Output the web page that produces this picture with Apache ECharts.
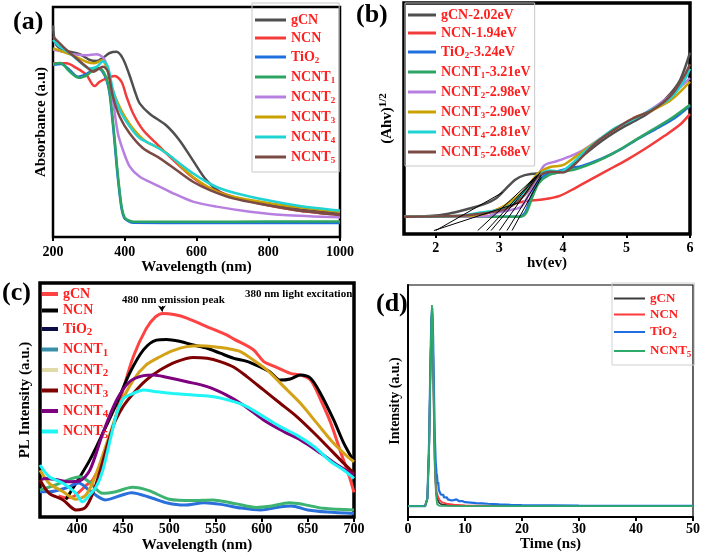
<!DOCTYPE html>
<html><head><meta charset="utf-8">
<script src="https://cdn.jsdelivr.net/npm/echarts@6/dist/echarts.min.js"></script>
<style>html,body{margin:0;padding:0;background:#fff}#c{width:703px;height:556px}</style>
</head><body><div id="c"></div>
<script>
// ---------- DATA ----------
const KEYS = ['gCN','NCN','TiO2','NCNT1','NCNT2','NCNT3','NCNT4','NCNT5'];
const KEYS_D = ['gCN','NCN','TiO2','NCNT5'];
const BANDGAP = ['2.02','1.94','3.24','3.21','2.98','2.90','2.81','2.68'];
const TICKS_A = [200,400,600,800,1000];
const TICKS_B = [2,3,4,5,6];
const TICKS_C = [400,450,500,550,600,650,700];
const TICKS_D = [0,10,20,30,40,50];

// (a) Absorbance vs wavelength [nm, a.u.]
const a_gCN = [[200,92],[202,88],[206,84.5],[215,82.5],[237,81],[274,79.5],[302,77],[321,76.5],[340,78],[358,80],[377,80.5],[395,77.5],[414,70],[430,62.5],[442,58],[470,53.5],[516,48.5],[553,42],[590,33.3],[628,24.6],[665,19.6],[702,17.2],[750,15.6],[795,14.3],[850,13],[888,12],[950,11],[1000,10.3]];
const a_NCN = [[200,75.5],[237,75.5],[265,73.5],[293,70.5],[316,65.6],[330,67.5],[349,69],[372,70],[391,67.5],[405,61],[423,53.8],[451,46.5],[488,40.7],[535,33.5],[581,27],[628,21.9],[702,17.5],[795,13.9],[888,11.4],[1000,9.6]];
const a_TiO2 = [[200,74.8],[223,75.2],[247,72.5],[270,69.7],[293,70.8],[321,73.3],[335,72.5],[349,68.3],[358,62],[365,52],[372,40.7],[378,30],[384,21],[391,12.5],[398,8.5],[405,7.4],[423,6.2],[600,6.1],[800,6.1],[1000,6.1]];
const a_NCNT1 = [[200,75],[220,75.6],[247,71.8],[272,69.2],[296,70.5],[321,73.5],[336,72.8],[350,68.5],[359,62],[366,52],[373,40.5],[379,30],[385,21],[392,12.5],[399,8.7],[406,7.6],[425,6.6],[600,6.6],[800,6.7],[1000,6.7]];
const a_NCNT2 = [[200,81.5],[228,80.5],[256,79.5],[290,79],[321,79.5],[340,78],[349,75],[358,69],[367,59.7],[381,45],[395,37.8],[414,30.6],[442,26.2],[488,22.6],[535,19],[590,15.4],[656,13.2],[749,11],[842,9.6],[1000,8.6]];
const a_NCNT3 = [[200,82],[228,80.5],[256,78.9],[293,76.2],[316,75.5],[335,76.8],[349,74],[363,65.5],[377,59.6],[395,53.8],[423,47.2],[460,41.4],[498,38.5],[535,34.2],[572,28.4],[609,24],[656,19.7],[702,17.5],[795,14.9],[888,12.9],[1000,11]];
const a_NCNT4 = [[200,85.7],[218,82.8],[247,79.8],[274,76.2],[302,73.3],[321,74],[340,76.4],[353,74],[367,64],[386,55.2],[414,48],[442,42.9],[479,40],[516,36.4],[553,32],[590,27.7],[628,24],[665,21.2],[721,18.6],[795,16.1],[888,13.5],[1000,11.5]];
const a_NCNT5 = [[200,87.1],[214,84.9],[237,81.4],[265,77.7],[293,74],[312,71.9],[330,73.4],[340,74],[353,71.9],[367,61],[386,52.3],[414,45],[451,38.6],[498,34.2],[544,29.1],[590,24],[637,20.4],[702,16.8],[795,13.9],[888,11.4],[1000,9.6]];

// (b) Tauc plot [eV, a.u.]
const b_gCN = [[1.5,7.5],[1.9,7.8],[2.2,8.8],[2.5,10.8],[2.75,12.8],[2.95,15.5],[3.1,19.5],[3.25,23.5],[3.4,25.5],[3.6,26.2],[3.8,26.2],[3.95,26.8],[4.1,28.8],[4.3,33.5],[4.5,38],[4.7,42],[4.9,45.5],[5.1,48.5],[5.3,51.5],[5.5,55.5],[5.7,61],[5.85,67],[6,78.5]];
const b_NCN = [[1.5,7.5],[2.5,7.8],[2.8,9],[3.0,11],[3.2,12.8],[3.4,14.2],[3.7,15],[3.95,16.5],[4.2,20],[4.5,24.5],[4.8,29],[5.0,32],[5.3,37],[5.6,42.5],[5.85,47.5],[6,52]];
const b_TiO2 = [[1.5,7.5],[3.3,7.5],[3.4,9],[3.5,16],[3.6,22.5],[3.75,26],[3.9,27],[4.1,28.5],[4.3,29.5],[4.6,32.5],[4.9,36.5],[5.2,41.5],[5.5,46],[5.75,50],[6,55.5]];
const b_NCNT1 = [[1.5,7.5],[3.33,7.5],[3.42,9],[3.52,16],[3.62,22],[3.78,25.5],[4.0,27],[4.2,28],[4.5,31],[4.8,35],[5.1,40],[5.4,45],[5.7,50],[6,56]];
const b_NCNT2 = [[1.5,7.5],[2.8,7.7],[3.0,9.5],[3.2,10.5],[3.35,12],[3.5,19],[3.7,29.5],[3.9,31.5],[4.1,33.5],[4.3,36],[4.6,41.5],[5.0,48.5],[5.3,52.5],[5.6,58],[5.8,62.5],[6,67.5]];
const b_NCNT3 = [[1.5,7.5],[2.6,8],[2.8,9],[3.0,11],[3.2,14.5],[3.4,19],[3.6,26],[3.8,29],[4.0,29.8],[4.2,33.5],[4.5,39.5],[4.8,45],[5.1,50],[5.4,53.5],[5.7,58],[6,66]];
const b_NCNT4 = [[1.5,7.5],[2.4,7.9],[2.7,9.3],[3.0,10.5],[3.2,13],[3.4,18.5],[3.6,25],[3.8,27.5],[3.95,27],[4.1,29.5],[4.4,37],[4.8,45.5],[5.1,49.5],[5.4,54],[5.7,59],[5.9,66],[6,71.5]];
const b_NCNT5 = [[1.5,7.5],[2.4,7.9],[2.7,8.8],[3.0,10],[3.2,12.2],[3.4,17],[3.6,24.5],[3.8,27],[4.0,26.6],[4.2,30.5],[4.5,39],[4.8,45],[5.1,50],[5.4,53.5],[5.7,60],[5.9,68],[6,73.5]];
// tangent (band-gap extrapolation) lines
const tan_gCN = [[2.0,1.5],[3.05,18]];
const tan_NCN = [[1.97,1.5],[3.3,13.5]];
const tan_TiO2 = [[3.2,1.5],[3.66,24.5]];
const tan_NCNT1 = [[3.12,1.5],[3.66,25.5]];
const tan_NCNT2 = [[3.0,1.5],[3.65,27]];
const tan_NCNT3 = [[2.87,1.5],[3.62,26]];
const tan_NCNT4 = [[2.8,1.5],[3.6,25.5]];
const tan_NCNT5 = [[2.66,1.5],[3.58,25]];

// (c) PL spectra [nm, a.u.]
const c_gCN = [[380,9],[388,8.2],[395,8.5],[402,10.5],[410,13.5],[417,15.8],[428,24.4],[439,38.6],[450,54.3],[461,68.5],[475,80.5],[485,85.5],[493,87],[505,86.5],[519,85],[541,81.3],[562,77.8],[570,76],[591,71.5],[602,66.5],[613,64.5],[631,61.4],[642,60.7],[653,58.5],[664,50],[675,40],[686,27.2],[695,17.2],[700,10.5]];
const c_NCN = [[388,7.5],[399,14.4],[414,24.4],[428,35.8],[443,48.6],[457,61.4],[472,71.4],[486,75.6],[497,75.9],[512,75],[526,73.5],[541,72.1],[555,70],[570,67.8],[584,66.5],[599,64],[609,62],[620,58.5],[631,59],[642,60.7],[653,59.3],[664,52.6],[678,41.5],[689,31.5],[700,23.6]];
const c_TiO2 = [[360,10.8],[370,10.8],[388,12.4],[402,14.5],[413,11.5],[431,7.3],[449,9.4],[459,10.4],[481,8.1],[498,6],[516,5.1],[538,6.1],[556,5.4],[578,3.8],[599,3],[621,4.4],[632,4.7],[650,3],[671,2.1],[700,1.5]];
const c_NCNT1 = [[360,11.5],[377,13.7],[395,16.5],[403,17.2],[413,15.1],[428,10.1],[442,10.8],[460,12.7],[478,11.3],[500,7.6],[526,7],[547,7.3],[573,5.6],[594,4.1],[609,4.6],[630,6.1],[645,5.4],[667,3.7],[700,3]];
const c_NCNT2 = [[360,20],[370,14.4],[385,10.8],[399,7.6],[410,9.5],[421,18.7],[436,35.8],[446,47.2],[461,58.5],[475,65],[490,68.5],[504,71.1],[519,72.8],[533,73.2],[548,72.8],[562,72.1],[577,70.7],[591,67.1],[606,62.8],[624,55.7],[642,48.6],[660,40],[678,31.5],[693,25.8],[700,23.6]];
const c_NCNT3 = [[360,15.8],[370,10.1],[385,7.3],[399,3],[410,4.4],[421,14.4],[439,38.6],[450,47.2],[461,52.8],[475,58.5],[490,62.8],[508,66.4],[526,68.2],[541,67.8],[555,66.4],[570,64],[584,60],[602,54.3],[620,48.6],[638,42.9],[657,35.8],[675,28.6],[689,22.9],[700,18.7]];
const c_NCNT4 = [[361,16],[366,16.5],[377,16],[391,15.1],[403,15.5],[414,20],[428,35.8],[443,50],[457,57.8],[472,60.4],[483,60.7],[497,59.7],[519,57.8],[541,55.7],[562,52.1],[580,47.9],[602,41.5],[624,36.5],[642,32.9],[664,27.2],[682,22.2],[700,17.9]];
const c_NCNT5 = [[360,22.2],[370,17.2],[385,14.4],[399,10.1],[406,6.5],[413,9],[421,13],[428,20],[436,33],[443,44],[450,50.5],[461,52.8],[472,54.3],[486,53.5],[504,52.8],[526,52.1],[548,51.4],[570,49.3],[584,47.2],[602,42.9],[620,38.6],[638,35],[657,30],[675,23.6],[689,20],[700,16.5]];
const c_peakArrow = [[492,90.2],[492,87.8]];

// (d) TRPL decay [ns, a.u.]
const d_gCN = [[0,4.7],[3.0,4.7],[3.4,8],[3.7,30],[3.9,60],[4.1,84],[4.25,88],[4.4,70],[4.55,42],[4.7,22],[4.9,12],[5.1,8],[5.5,6],[6,5.3],[8,4.9],[50,4.7]];
const d_NCN = [[0,4.7],[3.0,4.7],[3.4,8],[3.7,30],[3.9,60],[4.1,84],[4.25,88],[4.4,72],[4.55,45],[4.7,25],[4.85,15],[5.0,11],[5.3,8.5],[5.6,7.2],[6,6.3],[7,5.6],[8,5.3],[10,5.0],[15,4.8],[50,4.7]];
const d_TiO2 = [[0,4.7],[3.0,4.7],[3.4,8],[3.7,32],[3.9,62],[4.1,86],[4.25,90],[4.4,78],[4.55,55],[4.7,35],[4.85,24],[5.0,19],[5.1,17.5],[5.2,14],[5.3,15],[5.4,11.8],[5.5,12.5],[5.6,10.5],[5.7,11],[5.8,9.6],[6.0,9.2],[6.2,9.6],[6.3,8.4],[6.6,8],[6.8,8.5],[7.0,7.6],[7.5,7.2],[8.0,7.3],[8.5,7.6],[9.0,6.8],[9.5,6.9],[10,6.4],[11,6.2],[12,6.0],[13,5.9],[14,5.7],[16,5.4],[18,5.2],[20,5.1],[25,5.0],[30,4.9],[40,4.85],[50,4.8]];
const d_NCNT5 = [[0,4.7],[3.0,4.7],[3.4,8],[3.7,30],[3.9,60],[4.1,85],[4.2,91.4],[4.35,80],[4.5,55],[4.7,25],[4.9,10],[5.1,5.5],[5.5,4.8],[10,4.7],[50,4.7]];

// ---------- STYLE ----------
const FONT = 'Liberation Serif';
const RED = '#ff1f1f';
const LABELS = {gCN:'gCN', NCN:'NCN', TiO2:'TiO{s|2}', NCNT1:'NCNT{s|1}', NCNT2:'NCNT{s|2}', NCNT3:'NCNT{s|3}', NCNT4:'NCNT{s|4}', NCNT5:'NCNT{s|5}'};
const PAL_AB = {gCN:'#4f4f4f', NCN:'#f23b3b', TiO2:'#1f6fde', NCNT1:'#2ca563', NCNT2:'#b77fe0', NCNT3:'#c9a100', NCNT4:'#1fd3d3', NCNT5:'#7b4a44'};
const PAL_C = {gCN:'#ff4343', NCN:'#000000', TiO2:'#2a6fdb', NCNT1:'#3cb371', NCNT2:'#d4a216', NCNT3:'#7f0000', NCNT4:'#7f007f', NCNT5:'#1ff5f5'};
const PAL_C_LEG = {gCN:'#ff4343', NCN:'#000000', TiO2:'#0c0c45', NCNT1:'#3a8fa8', NCNT2:'#e0d9a8', NCNT3:'#7f0000', NCNT4:'#7f007f', NCNT5:'#1ff5f5'};
const PAL_D = {gCN:'#3a3a3a', NCN:'#ff3a3a', TiO2:'#1f6fe0', NCNT5:'#2eaa6a'};

const A = {gCN:a_gCN,NCN:a_NCN,TiO2:a_TiO2,NCNT1:a_NCNT1,NCNT2:a_NCNT2,NCNT3:a_NCNT3,NCNT4:a_NCNT4,NCNT5:a_NCNT5};
const B = {gCN:b_gCN,NCN:b_NCN,TiO2:b_TiO2,NCNT1:b_NCNT1,NCNT2:b_NCNT2,NCNT3:b_NCNT3,NCNT4:b_NCNT4,NCNT5:b_NCNT5};
const BT = {gCN:tan_gCN,NCN:tan_NCN,TiO2:tan_TiO2,NCNT1:tan_NCNT1,NCNT2:tan_NCNT2,NCNT3:tan_NCNT3,NCNT4:tan_NCNT4,NCNT5:tan_NCNT5};
const C = {gCN:c_gCN,NCN:c_NCN,TiO2:c_TiO2,NCNT1:c_NCNT1,NCNT2:c_NCNT2,NCNT3:c_NCNT3,NCNT4:c_NCNT4,NCNT5:c_NCNT5};
const D = {gCN:d_gCN,NCN:d_NCN,TiO2:d_TiO2,NCNT5:d_NCNT5};

function fmt(name){
  const p = name.split(':');
  let t = LABELS[p[1]];
  if (p[0]==='b') t += '-' + BANDGAP[KEYS.indexOf(p[1])] + 'eV';
  return t;
}
function legText(fs, lh, sfs, slh, spad){
  return {color:RED, fontFamily:FONT, fontWeight:'bold', fontSize:fs, lineHeight:lh,
    rich:{s:{color:RED, fontFamily:FONT, fontWeight:'bold', fontSize:sfs, lineHeight:slh, padding:[spad,0,0,0]}}};
}
const tickLbl = (m)=>({color:'#000', fontFamily:FONT, fontWeight:'bold', fontSize:14, margin:m, formatter:(v)=>String(v)});
const nameSt = (fs)=>({color:'#000', fontFamily:FONT, fontWeight:'bold', fontSize:fs});

const series = [];
KEYS.forEach(k=>series.push({name:'a:'+k, type:'line', xAxisIndex:0, yAxisIndex:0, data:A[k], showSymbol:false, symbol:'none', smooth:0.3, lineStyle:{width:2.5, color:PAL_AB[k]}, itemStyle:{color:PAL_AB[k]}}));
KEYS.forEach(k=>series.push({name:'b:'+k, type:'line', xAxisIndex:1, yAxisIndex:1, data:B[k], showSymbol:false, symbol:'none', smooth:0.3, lineStyle:{width:2.5, color:PAL_AB[k]}, itemStyle:{color:PAL_AB[k]}}));
KEYS.forEach(k=>series.push({name:'bt:'+k, type:'line', xAxisIndex:1, yAxisIndex:1, data:BT[k], showSymbol:false, symbol:'none', lineStyle:{width:1, color:'#000'}, z:3}));
KEYS.forEach(k=>{
  const s = {name:'c:'+k, type:'line', xAxisIndex:2, yAxisIndex:2, data:C[k], showSymbol:false, symbol:'none', smooth:0.3, lineStyle:{width:3, color:PAL_C[k]}, itemStyle:{color:PAL_C[k]}};
  if (k==='gCN') s.markLine = {silent:true, symbol:['none','arrow'], symbolSize:[6,6], label:{show:false}, lineStyle:{color:'#000', width:1, type:'solid'},
     data:[[{coord:c_peakArrow[0]},{coord:c_peakArrow[1]}]]};
  series.push(s);
});
KEYS_D.forEach(k=>series.push({name:'d:'+k, type:'line', xAxisIndex:3, yAxisIndex:3, data:D[k], showSymbol:false, symbol:'none', lineStyle:{width:k==='TiO2'?2.2:1.8, color:PAL_D[k]}, itemStyle:{color:PAL_D[k]}}));

const option = {
  backgroundColor:'#fff',
  animation:false,
  grid:[
    {left:53, top:7, width:287, height:230, show:true, borderColor:'#000', borderWidth:2.5},
    {left:404, top:3, width:286, height:231, show:true, borderColor:'#000', borderWidth:3.5},
    {left:40, top:283, width:314, height:234, show:true, borderColor:'#000', borderWidth:3.5},
    {left:408, top:285, width:286, height:232, show:true, borderColor:'#000', borderWidth:1.2}
  ],
  xAxis:[
    {type:'value', gridIndex:0, min:200, max:1000, interval:200, splitLine:{show:false}, axisLine:{show:false},
     axisTick:{show:true, inside:false, length:4, lineStyle:{width:2,color:'#000'}}, axisLabel:tickLbl(8),
     name:'Wavelength (nm)', nameLocation:'middle', nameGap:22, nameTextStyle:nameSt(15)},
    {type:'value', gridIndex:1, min:1.5, max:6, splitLine:{show:false}, axisLine:{show:false},
     axisTick:{show:true, length:4, customValues:TICKS_B, lineStyle:{width:2,color:'#000'}}, axisLabel:Object.assign(tickLbl(7),{customValues:TICKS_B}),
     name:'hv(ev)', nameLocation:'middle', nameGap:22, nameTextStyle:nameSt(15)},
    {type:'value', gridIndex:2, min:360, max:700, splitLine:{show:false}, axisLine:{show:false},
     axisTick:{show:true, length:5, customValues:TICKS_C, lineStyle:{width:2,color:'#000'}}, axisLabel:Object.assign(tickLbl(5),{customValues:TICKS_C}),
     name:'Wavelength (nm)', nameLocation:'middle', nameGap:21, nameTextStyle:nameSt(15)},
    {type:'value', gridIndex:3, min:0, max:50, interval:10, splitLine:{show:false}, axisLine:{show:true, lineStyle:{width:2,color:'#000'}},
     axisTick:{show:true, length:4, lineStyle:{width:2,color:'#000'}}, axisLabel:tickLbl(5),
     name:'Time (ns)', nameLocation:'middle', nameGap:20, nameTextStyle:nameSt(15)}
  ],
  yAxis:[
    {type:'value', gridIndex:0, min:0, max:100, splitLine:{show:false}, axisLine:{show:false}, axisTick:{show:false}, axisLabel:{show:false},
     name:'Absorbance (a.u)', nameLocation:'middle', nameGap:4, nameTextStyle:nameSt(15)},
    {type:'value', gridIndex:1, min:0, max:100, splitLine:{show:false}, axisLine:{show:false}, axisTick:{show:false}, axisLabel:{show:false},
     name:'(Ahv){sup|1/2}', nameLocation:'middle', nameGap:8,
     nameTextStyle:Object.assign(nameSt(15),{lineHeight:18, rich:{sup:{color:'#000', fontFamily:FONT, fontWeight:'bold', fontSize:11, lineHeight:11, padding:[0,0,7,0]}}})},
    {type:'value', gridIndex:2, min:0, max:100, splitLine:{show:false}, axisLine:{show:false}, axisTick:{show:false}, axisLabel:{show:false},
     name:'PL Intensity (a.u.)', nameLocation:'middle', nameGap:7, nameTextStyle:nameSt(15)},
    {type:'value', gridIndex:3, min:0, max:100, splitLine:{show:false}, axisLine:{show:true, lineStyle:{width:2,color:'#000'}}, axisTick:{show:false}, axisLabel:{show:false},
     name:'Intensity (a.u.)', nameLocation:'middle', nameGap:6, nameTextStyle:nameSt(14)}
  ],
  legend:[
    {z:10, left:252, top:3, orient:'vertical', selectedMode:false, padding:[10,4,7,3], itemGap:4, itemWidth:31, itemHeight:3, icon:'rect',
     borderColor:'#c8c8c8', borderWidth:1, formatter:fmt, textStyle:legText(14,14,9,9,7),
     data:KEYS.map(k=>({name:'a:'+k, itemStyle:{color:PAL_AB[k]}}))},
    {z:10, left:405, top:3, orient:'vertical', selectedMode:false, padding:[5,4,6,3], itemGap:4, itemWidth:28, itemHeight:3, icon:'rect',
     borderColor:'#c8c8c8', borderWidth:1, formatter:fmt, textStyle:legText(14,14,9,9,7),
     data:KEYS.map(k=>({name:'b:'+k, itemStyle:{color:PAL_AB[k]}}))},
    {z:10, left:40, top:287, orient:'vertical', selectedMode:false, padding:[0,0,0,2], itemGap:2.5, itemWidth:16, itemHeight:4, icon:'rect',
     formatter:fmt, textStyle:legText(14,13,11,10,7),
     data:KEYS.map(k=>({name:'c:'+k, itemStyle:{color:PAL_C_LEG[k]}}))},
    {z:10, left:612, top:283, orient:'vertical', selectedMode:false, padding:[9,3,6,2], itemGap:3, itemWidth:31, itemHeight:2, icon:'rect',
     borderColor:'#d0d0d0', borderWidth:1, formatter:fmt, textStyle:legText(13,12,9,9,7),
     data:KEYS_D.map(k=>({name:'d:'+k, itemStyle:{color:PAL_D[k]}}))}
  ],
  graphic:[
    {type:'text', left:13, top:9, style:{text:'(a)', font:'bold 26px "Liberation Serif"', fill:'#000'}},
    {type:'text', left:356, top:2, style:{text:'(b)', font:'bold 26px "Liberation Serif"', fill:'#000'}},
    {type:'text', left:2, top:280, style:{text:'(c)', font:'bold 26px "Liberation Serif"', fill:'#000'}},
    {type:'text', left:376, top:291, style:{text:'(d)', font:'bold 26px "Liberation Serif"', fill:'#000'}},
    {type:'text', left:122, top:295, style:{text:'480 nm emission peak', font:'bold 11px "Liberation Serif"', fill:'#000'}},
    {type:'text', left:245, top:289, style:{text:'380 nm light excitation', font:'bold 11px "Liberation Serif"', fill:'#000'}}
  ],
  series:series
};
const chart = echarts.init(document.getElementById('c'), null, {renderer:'canvas'});
chart.setOption(option);
</script></body></html>
